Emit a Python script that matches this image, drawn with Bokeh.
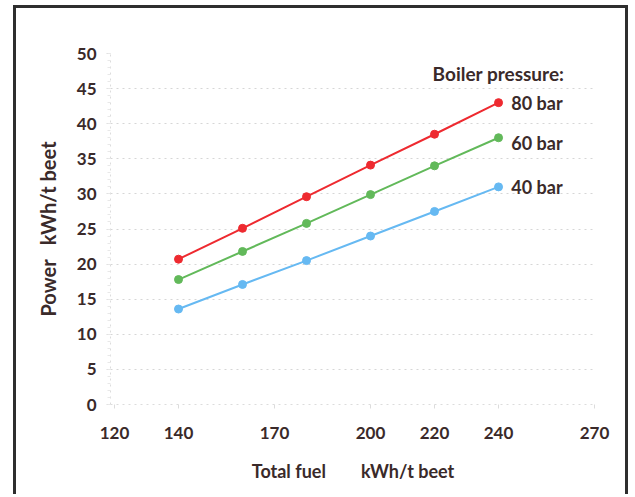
from bokeh.plotting import figure
from bokeh.models import Range1d, FixedTicker, Label
from bokeh.embed import file_html
from bokeh.resources import INLINE

# ---- data ----
fuel = [140, 160, 180, 200, 220, 240]
power_80 = [20.7, 25.1, 29.6, 34.1, 38.5, 43.0]
power_60 = [17.8, 21.8, 25.8, 29.9, 34.0, 38.0]
power_40 = [13.6, 17.1, 20.5, 24.0, 27.5, 31.0]
series_names = ["80 bar", "60 bar", "40 bar"]
x_ticks = [120, 140, 170, 200, 220, 240, 270]
y_ticks = [0, 5, 10, 15, 20, 25, 30, 35, 40, 45, 50]

FONT = "Lato"
TXT = "#3a2a2a"
colors = ["#ee2a30", "#62b95a", "#66b9f2"]
NB = "\u00a0"

p = figure(width=615, height=489, output_backend="svg", toolbar_location=None,
           x_range=Range1d(118.75, 270.3), y_range=Range1d(0, 50),
           min_border_left=94, min_border_right=36, min_border_top=45,
           min_border_bottom=93)
p.outline_line_color = None
p.background_fill_color = "white"
p.border_fill_color = "white"
p.margin = (5, 0, 0, 13)
p.styles = {"border-left": "3px solid #2e2e2e", "border-top": "3px solid #2e2e2e",
            "border-right": "3px solid #2e2e2e"}

p.xaxis.ticker = FixedTicker(ticks=x_ticks)
p.yaxis.ticker = FixedTicker(ticks=y_ticks, minor_ticks=[i * 1.0 for i in range(0, 51)])
for ax in (p.xaxis, p.yaxis):
    ax.axis_line_color = "#dcdcdc"
    ax.axis_line_dash = "dotted"
    ax.major_tick_line_color = "#dcdcdc"
    ax.minor_tick_line_color = "#e8e8e8"
    ax.major_tick_out = 4
    ax.major_tick_in = 0
    ax.minor_tick_out = 3
    ax.minor_tick_in = 0
    ax.major_label_text_font = FONT
    ax.major_label_text_font_style = "bold"
    ax.major_label_text_font_size = "17px"
    ax.major_label_text_color = TXT
    ax.axis_label_text_font = FONT
    ax.axis_label_text_font_style = "bold"
    ax.axis_label_text_color = TXT
p.xaxis.axis_label_text_font_size = "18px"
p.yaxis.axis_label_text_font_size = "20px"
p.xaxis.major_label_standoff = 18
p.yaxis.major_label_standoff = 10
p.xaxis.axis_label = "Total fuel" + NB * 8 + "kWh/t beet"
p.yaxis.axis_label = "Power" + NB * 3 + "kWh/t beet"
p.xaxis.axis_label_standoff = 18
p.yaxis.axis_label_standoff = 14

p.xgrid.grid_line_color = None
p.ygrid.grid_line_color = "#d6d6d6"
p.ygrid.grid_line_dash = "dotted"
p.ygrid.grid_line_width = 1

for ys, c in zip([power_80, power_60, power_40], colors):
    p.line(fuel, ys, line_color=c, line_width=2)
    p.scatter(fuel, ys, size=8, fill_color=c, line_color=c)

# series labels
label_y = [42.9, 37.3, 31.05]
for name, ly in zip(series_names, label_y):
    p.add_layout(Label(x=244.0, y=ly, text=name, text_font=FONT, text_font_style="bold",
                       text_font_size="18px", text_color=TXT, text_baseline="middle"))
p.add_layout(Label(x=219.4, y=47.15, text="Boiler pressure:", text_font=FONT,
                   text_font_style="bold", text_font_size="19px", text_color=TXT,
                   text_baseline="middle"))

open("out.html", "w").write(file_html(p, INLINE))
